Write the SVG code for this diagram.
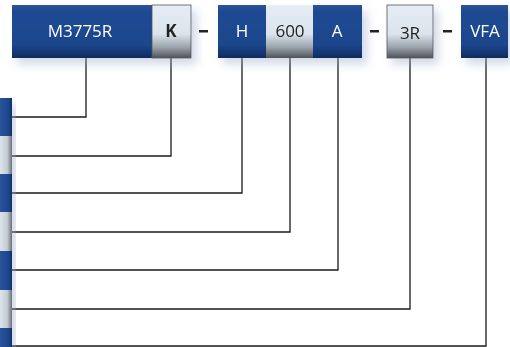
<svg xmlns="http://www.w3.org/2000/svg" width="510" height="347" viewBox="0 0 510 347">
<defs>
<linearGradient id="gb" x1="0" y1="0" x2="0" y2="1">
<stop offset="0" stop-color="#2a549c"/><stop offset="0.12" stop-color="#1f4a92"/><stop offset="0.75" stop-color="#1c468c"/><stop offset="1" stop-color="#0f2c60"/>
</linearGradient>
<linearGradient id="gg" x1="0" y1="0" x2="0" y2="1">
<stop offset="0" stop-color="#e6eef4"/><stop offset="0.55" stop-color="#dbe4ec"/><stop offset="0.8" stop-color="#9aa2aa"/><stop offset="1" stop-color="#4e5258"/>
</linearGradient>
<linearGradient id="lb" x1="0" y1="0" x2="1" y2="0">
<stop offset="0" stop-color="#2a549c"/><stop offset="0.7" stop-color="#1c468c"/><stop offset="1" stop-color="#102e64"/>
</linearGradient>
<linearGradient id="lg" x1="0" y1="0" x2="1" y2="0">
<stop offset="0" stop-color="#dde5ec"/><stop offset="0.6" stop-color="#c4ccd4"/><stop offset="1" stop-color="#6a6f75"/>
</linearGradient>
<filter id="sh" x="-20%" y="-20%" width="150%" height="160%">
<feDropShadow dx="5" dy="6" stdDeviation="5" flood-color="#9aa8c8" flood-opacity="0.45"/>
</filter>
</defs>
<style>
.t{font-family:"Open Sans","Noto Sans","Liberation Sans",sans-serif;font-size:17px;text-anchor:middle}
.w{fill:#ffffff}
.d{fill:#222222}
.c{fill:none;stroke:#1a1a1a;stroke-width:1.3}
.bd{stroke:#555;stroke-width:0.8}
</style>
<rect width="510" height="347" fill="#ffffff"/>
<g id="connectors">
<polyline class="c" points="86,58 86,117 11,117"/>
<polyline class="c" points="171,58 171,156 11,156"/>
<polyline class="c" points="242,58 242,193 11,193"/>
<polyline class="c" points="290,58 290,232 11,232"/>
<polyline class="c" points="338,58 338,270 11,270"/>
<polyline class="c" points="410,58 410,309 11,309"/>
<polyline class="c" points="486,58 486,346 11,346"/>
</g>
<g id="top-row" filter="url(#sh)">
<g id="n-m3775r"><rect x="12" y="5" width="140" height="53" fill="url(#gb)"/><text class="t w" x="80" y="37">M3775R</text></g>
<g id="n-k"><rect x="152" y="5" width="39" height="53" fill="url(#gg)" class="bd"/><text class="t d" x="171" y="37" font-weight="bold">K</text></g>
<g id="n-h"><rect x="218" y="5" width="48" height="53" fill="url(#gb)"/><text class="t w" x="242" y="37">H</text></g>
<g id="n-600"><rect x="266" y="5" width="47" height="53" fill="url(#gg)"/><text class="t d" x="290" y="37">600</text></g>
<g id="n-a"><rect x="313" y="5" width="49" height="53" fill="url(#gb)"/><text class="t w" x="337" y="37">A</text></g>
<g id="n-3r"><rect x="387" y="5" width="46" height="53" fill="url(#gg)" class="bd"/><text class="t d" x="410" y="39">3R</text></g>
<g id="n-vfa"><rect x="461" y="5" width="47" height="53" fill="url(#gb)"/><text class="t w" x="485" y="37">VFA</text></g>
</g>
<g id="dashes">
<rect x="199" y="30" width="9" height="2.5" fill="#222"/>
<rect x="370" y="30" width="9" height="2.5" fill="#222"/>
<rect x="443" y="30" width="9" height="2.5" fill="#222"/>
</g>
<g id="left-column" filter="url(#sh)">
<rect id="l1" x="0" y="98" width="12" height="38" fill="url(#lb)"/>
<rect id="l2" x="0" y="136" width="12" height="38" fill="url(#lg)"/>
<rect id="l3" x="0" y="174" width="12" height="38" fill="url(#lb)"/>
<rect id="l4" x="0" y="212" width="12" height="39" fill="url(#lg)"/>
<rect id="l5" x="0" y="251" width="12" height="39" fill="url(#lb)"/>
<rect id="l6" x="0" y="290" width="12" height="38" fill="url(#lg)"/>
<rect id="l7" x="0" y="328" width="12" height="30" fill="url(#lb)"/>
</g>
</svg>
